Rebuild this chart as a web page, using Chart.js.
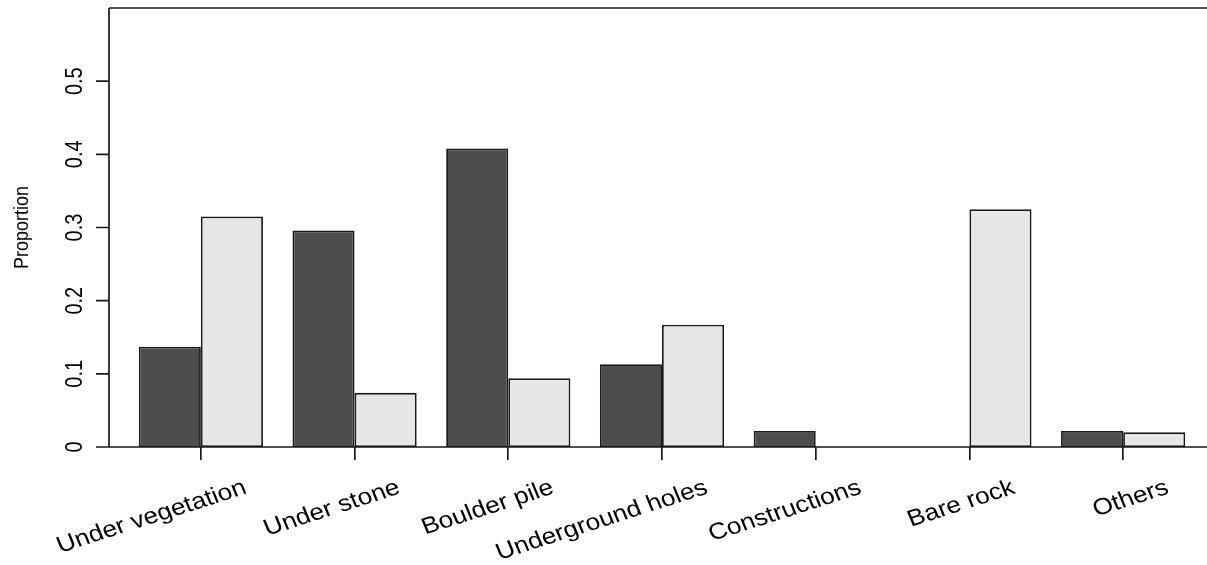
<!DOCTYPE html>
<html>
<head>
<meta charset="utf-8">
<script src="https://cdn.jsdelivr.net/npm/chart.js@4.4.1/dist/chart.umd.min.js"></script>
<style>
  html, body { margin: 0; padding: 0; background: #fff; overflow: hidden; }
  canvas { display: block; }
</style>
</head>
<body>
<canvas id="c" width="1207" height="565"></canvas>
<script>
// Shelter types and the proportion of records in each, for the two groups
const categories = ['Under vegetation', 'Under stone', 'Boulder pile', 'Underground holes', 'Constructions', 'Bare rock', 'Others'];
const darkValues  = [0.137, 0.296, 0.408, 0.113, 0.022, 0.000, 0.022];
const lightValues = [0.315, 0.074, 0.094, 0.167, 0.000, 0.325, 0.020];
const yTickValues = [0, 0.1, 0.2, 0.3, 0.4, 0.5];
const yTickLabels = ['0', '0.1', '0.2', '0.3', '0.4', '0.5'];
const yTitle = 'Proportion';
const yMax = 0.6;

const FONT = '"Liberation Sans", Arial, sans-serif';
const INK = '#1a1a1a';
const AXIS_GAP = 15;     // y axis sits this far left of the first category slot
const TICK_LEN = 13;
const X_LABEL_ANGLE = 20 * Math.PI / 180;
const X_LABEL_DX = 47;   // label end sits right of its tick
const X_LABEL_DY = 46;   // and this far below the baseline
const TEXT_WIDEN = 1.14; // horizontal widening of the label lettering

// Frame, baseline, the vertical axis and all axis lettering
const axisFrame = {
  id: 'axisFrame',
  afterDraw(chart) {
    const { ctx, chartArea: a, scales: { x, y } } = chart;
    const ax = a.left - AXIS_GAP;
    const base = y.getPixelForValue(0);
    const right = chart.width;
    ctx.save();
    ctx.strokeStyle = INK;
    ctx.lineWidth = 1.7;
    ctx.beginPath();
    ctx.moveTo(ax, a.top); ctx.lineTo(right, a.top);
    ctx.moveTo(ax, a.top); ctx.lineTo(ax, base);
    ctx.moveTo(ax - TICK_LEN, base); ctx.lineTo(right, base);
    yTickValues.forEach(v => {
      const py = y.getPixelForValue(v);
      ctx.moveTo(ax - TICK_LEN, py); ctx.lineTo(ax, py);
    });
    ctx.stroke();

    ctx.fillStyle = '#000';
    ctx.textBaseline = 'alphabetic';

    // y tick labels, reading upwards
    ctx.textAlign = 'center';
    ctx.font = '20px ' + FONT;
    yTickValues.forEach((v, i) => {
      const py = y.getPixelForValue(v);
      ctx.save();
      ctx.translate(ax - 27, py);
      ctx.scale(1.2, 1);
      ctx.rotate(-Math.PI / 2);
      ctx.fillText(yTickLabels[i], 0, 0);
      ctx.restore();
    });

    // y title
    ctx.font = '18px ' + FONT;
    ctx.save();
    ctx.translate(ax - 81, (a.top + base) / 2);
    ctx.scale(1.15, 1);
    ctx.rotate(-Math.PI / 2);
    ctx.fillText(yTitle, 0, 0);
    ctx.restore();

    // slanted category labels, ending just right of each tick
    ctx.textAlign = 'right';
    ctx.font = '23px ' + FONT;
    categories.forEach((label, i) => {
      const px = x.getPixelForValue(i);
      ctx.save();
      ctx.translate(px + X_LABEL_DX, base + X_LABEL_DY);
      ctx.scale(TEXT_WIDEN, 1);
      ctx.rotate(-X_LABEL_ANGLE);
      ctx.fillText(label, 0, 0);
      ctx.restore();
    });
    ctx.restore();
  }
};

new Chart(document.getElementById('c'), {
  type: 'bar',
  data: {
    labels: categories,
    datasets: [
      { data: darkValues,  backgroundColor: '#4d4d4d', borderColor: INK, borderWidth: 1.8, borderSkipped: false },
      { data: lightValues, backgroundColor: '#e6e6e6', borderColor: INK, borderWidth: 1.8, borderSkipped: false }
    ]
  },
  options: {
    responsive: false,
    animation: false,
    devicePixelRatio: 1,
    layout: { padding: { left: 124, right: 7, top: 8, bottom: 0 } },
    datasets: { bar: { categoryPercentage: 0.808, barPercentage: 1.0 } },
    plugins: { legend: { display: false }, tooltip: { enabled: false } },
    scales: {
      x: {
        type: 'category',
        offset: true,
        border: { display: false },
        grid: {
          display: true, drawOnChartArea: false, drawTicks: true, offset: false,
          tickLength: TICK_LEN, color: INK, lineWidth: 1.7
        },
        ticks: { display: false, autoSkip: false },
        afterFit(scale) { scale.height = 118; }
      },
      y: {
        display: false,
        min: 0,
        max: yMax
      }
    }
  },
  plugins: [axisFrame]
});
</script>
</body>
</html>
